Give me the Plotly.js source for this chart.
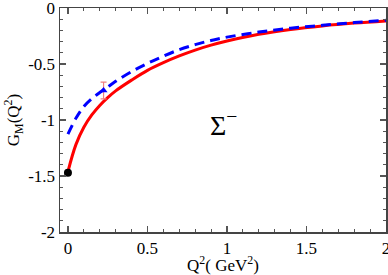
<!DOCTYPE html>
<html><head><meta charset="utf-8">
<script src="https://cdn.plot.ly/plotly-3.0.1.min.js"></script>
<style>html,body{margin:0;padding:0;background:#fff}#chart{width:388px;height:275px}</style>
</head><body><div id="chart"></div>
<script>
// Red solid curve
const redQ2 = [0, 0.05, 0.1, 0.15, 0.2, 0.25, 0.3, 0.4, 0.5, 0.6, 0.7, 0.8, 0.9, 1.0, 1.2, 1.4, 1.6, 1.8, 2.0];
const redG  = [-1.46, -1.22, -1.065, -0.955, -0.87, -0.80, -0.74, -0.644, -0.557, -0.488, -0.428, -0.376, -0.332, -0.295, -0.235, -0.192, -0.16, -0.135, -0.115];
// Blue dashed curve
const blueQ2 = [0, 0.05, 0.1, 0.15, 0.2, 0.25, 0.3, 0.4, 0.5, 0.6, 0.7, 0.8, 0.9, 1.0, 1.2, 1.4, 1.6, 1.8, 2.0];
const blueG  = [-1.127, -0.985, -0.88, -0.81, -0.755, -0.705, -0.655, -0.568, -0.495, -0.43, -0.372, -0.327, -0.29, -0.26, -0.215, -0.18, -0.155, -0.13, -0.11];
// Data points
const expQ2 = [0];
const expG = [-1.47];
const expErr = [0.02];
const triQ2 = [0.224];
const triG = [-0.737];
const triErr = [0.075];
// Tick labels
const yTickVals = [0, -0.5, -1, -1.5, -2];
const yTickText = ["0", "-0.5", "-1", "-1.5", "-2"];
const xTickVals = [0, 0.5, 1, 1.5, 2];
const xTickText = ["0", "0.5", "1", "1.5", "2"];

const serif = "Liberation Serif";
const font = {family: serif, size: 17, color: "#000"};
const titleFont = {family: serif, size: 17, color: "#000"};
const traces = [
  {x: redQ2, y: redG, mode: "lines", line: {color: "#ff0000", width: 3, shape: "spline", smoothing: 1}, hoverinfo: "skip"},
  {x: blueQ2, y: blueG, mode: "lines", line: {color: "#0000ff", width: 3, dash: "10px,6px", shape: "spline", smoothing: 1}, hoverinfo: "skip"},
  {x: triQ2, y: triG, mode: "markers", marker: {symbol: "triangle-up", size: 7, color: "#0000ff"},
   error_y: {type: "data", array: triErr, color: "#f08080", thickness: 1.2, width: 3}},
  {x: expQ2, y: expG, mode: "markers", marker: {symbol: "circle", size: 8, color: "#000"},
   error_y: {type: "data", array: expErr, color: "#888", thickness: 1, width: 3}}
];
const axisCommon = {
  showgrid: false, zeroline: false, showline: true, linecolor: "#444", linewidth: 1.5,
  mirror: "ticks", ticks: "inside", ticklen: 6, tickwidth: 1.2, tickcolor: "#555",
  tickfont: font, ticklabeloverflow: "allow"
};
const layout = {
  width: 388, height: 275,
  margin: {l: 60, r: 2, t: 8, b: 43},
  paper_bgcolor: "#fff", plot_bgcolor: "#fff",
  showlegend: false,
  xaxis: Object.assign({}, axisCommon, {
    range: [-0.05, 2], tickmode: "array", tickvals: xTickVals, ticktext: xTickText,
    minor: {dtick: 0.1, tick0: 0, ticks: "inside", ticklen: 3, tickcolor: "#555", tickwidth: 1},
    title: {text: "Q<sup>2</sup>( GeV<sup>2</sup>)", font: titleFont, standoff: 6}
  }),
  yaxis: Object.assign({}, axisCommon, {
    range: [-2, 0], tickmode: "array", tickvals: yTickVals, ticktext: yTickText,
    minor: {dtick: 0.1, tick0: 0, ticks: "inside", ticklen: 3, tickcolor: "#555", tickwidth: 1},
    title: {text: "G<sub>M</sub>(Q<sup>2</sup>)", font: titleFont, standoff: 4}
  }),
  annotations: [{
    x: 0.98, y: -1.03, xref: "x", yref: "y", showarrow: false,
    text: "Σ<sup>−</sup>", font: {family: serif, size: 28, color: "#000"}
  }]
};
Plotly.newPlot("chart", traces, layout, {staticPlot: true, displayModeBar: false});
</script></body></html>
